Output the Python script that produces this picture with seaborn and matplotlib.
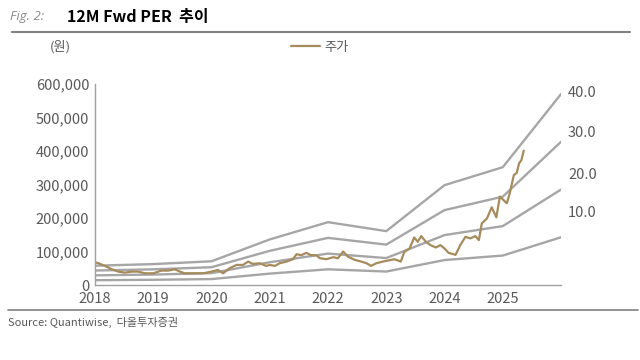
import seaborn as sns
import pandas as pd
import numpy as np
import matplotlib.pyplot as plt
from matplotlib.ticker import FuncFormatter

sns.set_theme(style='white')
plt.rcParams['font.family'] = ['Noto Sans CJK KR', 'DejaVu Sans']

# band data: forward EPS at each year-start, PER multiples
years = [2018, 2019, 2020, 2021, 2022, 2023, 2024, 2025, 2026]
eps = [1440, 1560, 1770, 3400, 4690, 4020, 7450, 8790, 14250]
per_multiples = [10, 20, 30, 40]
per_labels = ['40.0', '30.0', '20.0', '10.0']

# share price (decimal year, won)
price_year = [2018.00, 2018.06, 2018.17, 2018.29, 2018.40, 2018.51, 2018.63, 2018.74, 2018.86,
              2019.00, 2019.14, 2019.26, 2019.37, 2019.46, 2019.54, 2019.71, 2019.86,
              2020.00, 2020.11, 2020.20, 2020.31, 2020.43, 2020.54, 2020.63, 2020.71, 2020.83, 2020.94,
              2021.00, 2021.09, 2021.17, 2021.29, 2021.40, 2021.46, 2021.54, 2021.63, 2021.71, 2021.80,
              2021.86, 2021.97, 2022.09, 2022.17, 2022.26, 2022.34, 2022.46, 2022.57, 2022.66, 2022.74,
              2022.83, 2022.94, 2023.00, 2023.14, 2023.25, 2023.31, 2023.40, 2023.48, 2023.54, 2023.60,
              2023.68, 2023.76, 2023.85, 2023.93, 2024.00, 2024.07, 2024.19, 2024.27, 2024.36, 2024.44,
              2024.53, 2024.59, 2024.64, 2024.73, 2024.81, 2024.89, 2024.95, 2025.01, 2025.07, 2025.12,
              2025.19, 2025.24, 2025.28, 2025.32, 2025.36]
price = [68000, 65000, 57000, 47000, 40000, 37000, 40000, 40000, 35000,
         35000, 43000, 43000, 47000, 40000, 35000, 35000, 35000,
         40000, 45000, 35000, 50000, 60000, 60000, 70000, 63000, 65000, 57000,
         60000, 57000, 65000, 70000, 77000, 92000, 89000, 96000, 89000, 89000,
         80000, 77000, 83000, 80000, 100000, 85000, 75000, 70000, 65000, 57000,
         65000, 70000, 72000, 77000, 70000, 99000, 109000, 142000, 129000, 146000,
         129000, 119000, 112000, 119000, 109000, 96000, 90000, 119000, 144000, 139000,
         146000, 134000, 184000, 199000, 232000, 202000, 264000, 254000, 244000, 274000,
         328000, 335000, 363000, 373000, 401000]

band_rows = []
for m in per_multiples:
    for y, e in zip(years, eps):
        band_rows.append({'year': y, 'value': e * m, 'per': m})
band_df = pd.DataFrame(band_rows)
price_df = pd.DataFrame({'year': price_year, 'price': price})

fig = plt.figure(figsize=(6.4, 3.6), dpi=100)
ax = fig.add_axes([0.1484, 0.2083, 0.7282, 0.5584])

grey = '#A6A6A6'
text_grey = '#595959'
sns.lineplot(data=band_df, x='year', y='value', units='per', estimator=None,
             color=grey, linewidth=1.7, ax=ax, legend=False)
sns.lineplot(data=price_df, x='year', y='price', color='#A68B5B', linewidth=1.6,
             ax=ax, label='주가')

ax.set_xlim(2018, 2026)
ax.set_ylim(0, 600000)
ax.set_xticks(years[:-1])
ax.set_xticklabels([str(y) for y in years[:-1]])
ax.set_yticks(np.arange(0, 600001, 100000))
ax.yaxis.set_major_formatter(FuncFormatter(lambda v, p: f'{v:,.0f}'))
ax.set_xlabel('')
ax.set_ylabel('')
for s in ['top', 'right']:
    ax.spines[s].set_visible(False)
for s in ['left', 'bottom']:
    ax.spines[s].set_color('#A0A0A0')
    ax.spines[s].set_linewidth(1.0)
ax.tick_params(axis='both', colors='#A0A0A0', labelcolor=text_grey, labelsize=10.5,
               length=3, width=1, pad=2, direction='out')
ax.tick_params(axis='y', length=2)

# PER labels on the right
label_pos = [572000, 453000, 328000, 215000]
for lab, yv in zip(per_labels, label_pos):
    ax.text(2026.12, yv, lab, color=text_grey, fontsize=10.5, va='center', ha='left')

leg = ax.legend(loc='center', bbox_to_anchor=(0.5, 0.869), bbox_transform=fig.transFigure,
                frameon=False, fontsize=9.5, handlelength=2.2, handletextpad=0.3)
for t in leg.get_texts():
    t.set_color(text_grey)

fig.text(0.078, 0.869, '(원)', color=text_grey, fontsize=9.5, va='center')
fig.text(0.016, 0.953, 'Fig. 2:', color='#8C8C8C', fontsize=9.5, style='italic',
         family=['Open Sans', 'DejaVu Sans'], va='center')
fig.text(0.105, 0.953, '12M Fwd PER  추이', color='black', fontsize=11.5, fontweight='bold', va='center')
fig.add_artist(plt.Line2D([0.018, 0.985], [0.912, 0.912], color='#808080', linewidth=1.5))
fig.add_artist(plt.Line2D([0.012, 0.997], [0.138, 0.138], color='#808080', linewidth=1.2))
fig.text(0.012, 0.105, 'Source: Quantiwise,  다올투자증권', color=text_grey, fontsize=8, va='center')

fig.savefig('out.png', dpi=100)
